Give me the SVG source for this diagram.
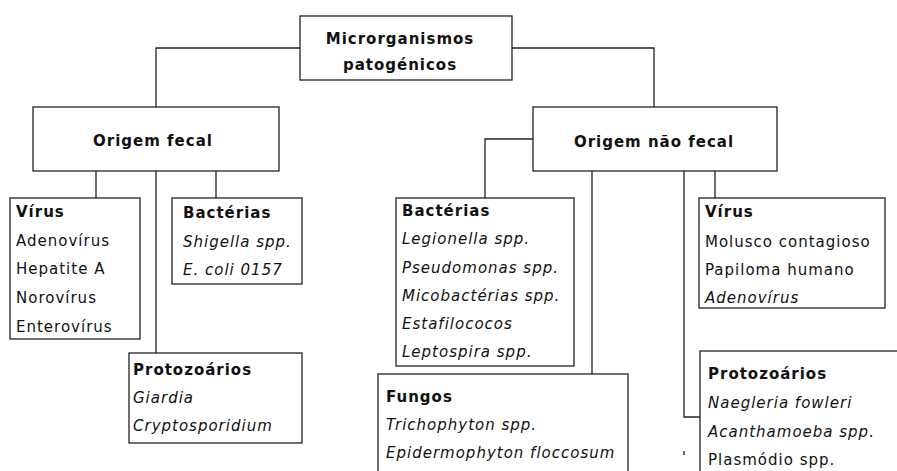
<svg xmlns="http://www.w3.org/2000/svg" width="897" height="471" viewBox="0 0 897 471">
<style>
.box{fill:#fff;stroke:#222;stroke-width:1.3}
.ln{fill:none;stroke:#222;stroke-width:1.3}
text{font-family:"DejaVu Sans","Verdana",sans-serif;font-size:15px;fill:#111;letter-spacing:1px}
.b{font-weight:bold}
.i{font-style:italic}
.c{text-anchor:middle}
</style>
<rect width="897" height="471" fill="#fff"/>
<g id="connectors">
<polyline class="ln" points="300,48 156,48 156,107"/>
<polyline class="ln" points="512,48 654,48 654,107"/>
<line class="ln" x1="96" y1="171" x2="96" y2="198"/>
<line class="ln" x1="156" y1="171" x2="156" y2="353"/>
<line class="ln" x1="216" y1="171" x2="216" y2="198"/>
<polyline class="ln" points="533,139 485,139 485,198"/>
<line class="ln" x1="592" y1="171" x2="592" y2="374"/>
<polyline class="ln" points="684,171 684,417 700,417"/>
<line class="ln" x1="715" y1="171" x2="715" y2="198"/>
<line class="ln" x1="684" y1="451" x2="684" y2="455"/>
</g>
<g id="root">
<rect class="box" x="300" y="16" width="212" height="64"/>
<text class="b c" x="400" y="44">Microrganismos</text>
<text class="b c" x="400" y="70">patogénicos</text>
</g>
<g id="fecal">
<rect class="box" x="33" y="107" width="246" height="64"/>
<text class="b c" x="153" y="146">Origem fecal</text>
</g>
<g id="naofecal">
<rect class="box" x="533" y="107" width="244" height="64"/>
<text class="b c" x="654" y="147">Origem não fecal</text>
</g>
<g id="virus-fecal">
<rect class="box" x="10" y="198" width="130" height="141"/>
<text class="b" x="16" y="217">Vírus</text>
<text x="16" y="245.5">Adenovírus</text>
<text x="16" y="274">Hepatite A</text>
<text x="16" y="303">Norovírus</text>
<text x="16" y="331.5">Enterovírus</text>
</g>
<g id="bacterias-fecal">
<rect class="box" x="172" y="198" width="130" height="86"/>
<text class="b" x="183" y="218">Bactérias</text>
<text class="i" x="183" y="247">Shigella spp.</text>
<text class="i" x="183" y="275">E. coli 0157</text>
</g>
<g id="protozoarios-fecal">
<rect class="box" x="129" y="353" width="173" height="90"/>
<text class="b" x="133" y="375">Protozoários</text>
<text class="i" x="133" y="403">Giardia</text>
<text class="i" x="133" y="431">Cryptosporidium</text>
</g>
<g id="bacterias-naofecal">
<rect class="box" x="396" y="198" width="178" height="168"/>
<text class="b" x="402" y="216">Bactérias</text>
<text class="i" x="402" y="244">Legionella spp.</text>
<text class="i" x="402" y="273">Pseudomonas spp.</text>
<text class="i" x="402" y="301">Micobactérias spp.</text>
<text class="i" x="402" y="329">Estafilococos</text>
<text class="i" x="402" y="357">Leptospira spp.</text>
</g>
<g id="fungos">
<rect class="box" x="378" y="374" width="250" height="120"/>
<text class="b" x="386" y="402">Fungos</text>
<text class="i" x="386" y="430">Trichophyton spp.</text>
<text class="i" x="386" y="458">Epidermophyton floccosum</text>
</g>
<g id="virus-naofecal">
<rect class="box" x="699" y="198" width="186" height="110"/>
<text class="b" x="705" y="217">Vírus</text>
<text x="705" y="247">Molusco contagioso</text>
<text x="705" y="275">Papiloma humano</text>
<text class="i" x="705" y="303">Adenovírus</text>
</g>
<g id="protozoarios-naofecal">
<rect class="box" x="700" y="351" width="220" height="140"/>
<text class="b" x="708" y="379">Protozoários</text>
<text class="i" x="708" y="408">Naegleria fowleri</text>
<text class="i" x="708" y="437">Acanthamoeba spp.</text>
<text x="708" y="465">Plasmódio spp.</text>
</g>
</svg>
